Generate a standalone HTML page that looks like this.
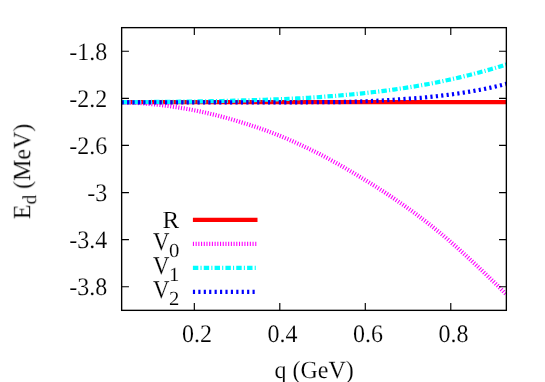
<!DOCTYPE html>
<html><head><meta charset="utf-8"><title>plot</title>
<style>
html,body{margin:0;padding:0;background:#fff;}
body{width:545px;height:382px;overflow:hidden;}
svg{display:block;}
text{font-family:"Liberation Serif",serif;font-size:24px;fill:#000;stroke:#fff;stroke-width:0.14px;text-rendering:geometricPrecision;}
.sub{font-size:19.2px;}
</style></head><body>
<svg width="545" height="382" viewBox="0 0 545 382">
<rect x="0" y="0" width="545" height="382" fill="#fff"/>
<!-- curves -->
<g fill="none" stroke-width="4.2" stroke-linecap="butt" stroke-linejoin="round">
<path d="M121.65,102.10 L506.35,102.10" stroke="#ff0000"/>
<path d="M192.9,219.8H257.5" stroke="#ff0000"/>
<path d="M121.65,102.30 L125.54,102.41 L129.42,102.55 L133.31,102.74 L137.19,102.96 L141.08,103.21 L144.97,103.50 L148.85,103.83 L152.74,104.19 L156.62,104.59 L160.51,105.02 L164.39,105.49 L168.28,105.99 L172.17,106.54 L176.05,107.11 L179.94,107.73 L183.82,108.37 L187.71,109.06 L191.60,109.78 L195.48,110.53 L199.37,111.33 L203.25,112.17 L207.14,113.05 L211.02,113.96 L214.91,114.91 L218.80,115.90 L222.68,116.92 L226.57,117.98 L230.45,119.07 L234.34,120.20 L238.23,121.36 L242.11,122.55 L246.00,123.76 L249.88,125.00 L253.77,126.28 L257.66,127.60 L261.54,128.95 L265.43,130.33 L269.31,131.76 L273.20,133.21 L277.08,134.71 L280.97,136.26 L284.86,137.89 L288.74,139.56 L292.63,141.26 L296.51,143.01 L300.40,144.78 L304.29,146.60 L308.17,148.44 L312.06,150.33 L315.94,152.25 L319.83,154.21 L323.71,156.23 L327.60,158.30 L331.49,160.40 L335.37,162.54 L339.26,164.71 L343.14,166.92 L347.03,169.17 L350.92,171.45 L354.80,173.77 L358.69,176.12 L362.57,178.47 L366.46,180.83 L370.34,183.22 L374.23,185.65 L378.12,188.11 L382.00,190.61 L385.89,193.15 L389.77,195.72 L393.66,198.33 L397.55,200.97 L401.43,203.65 L405.32,206.37 L409.20,209.12 L413.09,211.90 L416.98,214.77 L420.86,217.72 L424.75,220.71 L428.63,223.73 L432.52,226.79 L436.40,229.88 L440.29,233.01 L444.18,236.32 L448.06,239.66 L451.95,243.04 L455.83,246.46 L459.72,249.96 L463.61,253.49 L467.49,257.05 L471.38,260.64 L475.26,264.26 L479.15,267.91 L483.03,271.60 L486.92,275.31 L490.81,279.05 L494.69,282.82 L498.58,286.62 L502.46,290.55 L506.35,294.52" stroke="#ff00ff" stroke-dasharray="1.084 1.626"/>
<path d="M192.9,243.8H257.5" stroke="#ff00ff" stroke-dasharray="1.084 1.626"/>
<path d="M121.65,102.09 L125.54,102.08 L129.42,102.07 L133.31,102.06 L137.19,102.04 L141.08,102.02 L144.97,102.00 L148.85,101.98 L152.74,101.96 L156.62,101.93 L160.51,101.90 L164.39,101.86 L168.28,101.83 L172.17,101.79 L176.05,101.75 L179.94,101.70 L183.82,101.66 L187.71,101.60 L191.60,101.55 L195.48,101.49 L199.37,101.43 L203.25,101.36 L207.14,101.30 L211.02,101.22 L214.91,101.14 L218.80,101.06 L222.68,100.98 L226.57,100.89 L230.45,100.79 L234.34,100.69 L238.23,100.58 L242.11,100.47 L246.00,100.35 L249.88,100.23 L253.77,100.12 L257.66,100.01 L261.54,99.88 L265.43,99.76 L269.31,99.62 L273.20,99.48 L277.08,99.33 L280.97,99.17 L284.86,99.01 L288.74,98.83 L292.63,98.65 L296.51,98.46 L300.40,98.26 L304.29,98.03 L308.17,97.80 L312.06,97.55 L315.94,97.29 L319.83,97.03 L323.71,96.75 L327.60,96.46 L331.49,96.16 L335.37,95.85 L339.26,95.52 L343.14,95.19 L347.03,94.84 L350.92,94.48 L354.80,94.10 L358.69,93.72 L362.57,93.31 L366.46,92.90 L370.34,92.47 L374.23,92.02 L378.12,91.56 L382.00,91.08 L385.89,90.59 L389.77,90.08 L393.66,89.55 L397.55,89.00 L401.43,88.44 L405.32,87.86 L409.20,87.26 L413.09,86.64 L416.98,86.00 L420.86,85.34 L424.75,84.66 L428.63,83.95 L432.52,83.22 L436.40,82.45 L440.29,81.66 L444.18,80.84 L448.06,80.00 L451.95,79.14 L455.83,78.25 L459.72,77.34 L463.61,76.40 L467.49,75.44 L471.38,74.46 L475.26,73.46 L479.15,72.44 L483.03,71.40 L486.92,70.32 L490.81,69.21 L494.69,68.08 L498.58,66.91 L502.46,65.71 L506.35,64.48" stroke="#00ffff" stroke-dasharray="5.420 2.168 1.084 2.168"/>
<path d="M192.9,267.8H257.5" stroke="#00ffff" stroke-dasharray="5.420 2.168 1.084 2.168"/>
<path d="M121.65,102.30 L125.54,102.31 L129.42,102.31 L133.31,102.32 L137.19,102.32 L141.08,102.33 L144.97,102.34 L148.85,102.34 L152.74,102.35 L156.62,102.35 L160.51,102.36 L164.39,102.37 L168.28,102.37 L172.17,102.38 L176.05,102.38 L179.94,102.39 L183.82,102.39 L187.71,102.40 L191.60,102.40 L195.48,102.41 L199.37,102.41 L203.25,102.42 L207.14,102.42 L211.02,102.42 L214.91,102.43 L218.80,102.43 L222.68,102.43 L226.57,102.43 L230.45,102.44 L234.34,102.44 L238.23,102.44 L242.11,102.44 L246.00,102.43 L249.88,102.43 L253.77,102.43 L257.66,102.43 L261.54,102.42 L265.43,102.42 L269.31,102.41 L273.20,102.40 L277.08,102.39 L280.97,102.38 L284.86,102.36 L288.74,102.34 L292.63,102.32 L296.51,102.30 L300.40,102.28 L304.29,102.28 L308.17,102.27 L312.06,102.26 L315.94,102.25 L319.83,102.23 L323.71,102.21 L327.60,102.18 L331.49,102.15 L335.37,102.12 L339.26,102.08 L343.14,101.99 L347.03,101.90 L350.92,101.79 L354.80,101.68 L358.69,101.56 L362.57,101.41 L366.46,101.25 L370.34,101.07 L374.23,100.89 L378.12,100.69 L382.00,100.48 L385.89,100.24 L389.77,99.99 L393.66,99.73 L397.55,99.45 L401.43,99.18 L405.32,98.95 L409.20,98.70 L413.09,98.43 L416.98,98.14 L420.86,97.83 L424.75,97.46 L428.63,97.07 L432.52,96.66 L436.40,96.22 L440.29,95.77 L444.18,95.28 L448.06,94.80 L451.95,94.30 L455.83,93.77 L459.72,93.22 L463.61,92.63 L467.49,92.01 L471.38,91.37 L475.26,90.68 L479.15,89.96 L483.03,89.21 L486.92,88.41 L490.81,87.58 L494.69,86.70 L498.58,85.79 L502.46,84.82 L506.35,83.81" stroke="#0000ff" stroke-dasharray="2.168 3.252"/>
<path d="M192.9,291.8H257.5" stroke="#0000ff" stroke-dasharray="2.168 3.252"/>
</g>
<!-- frame & ticks -->
<path d="M121.65,51.21h7.3 M506.35,51.21h-7.3 M121.65,98.33h7.3 M506.35,98.33h-7.3 M121.65,145.44h7.3 M506.35,145.44h-7.3 M121.65,192.56h7.3 M506.35,192.56h-7.3 M121.65,239.68h7.3 M506.35,239.68h-7.3 M121.65,286.79h7.3 M506.35,286.79h-7.3 M194.32,310.35v-7.3 M194.32,27.65v7.3 M279.80,310.35v-7.3 M279.80,27.65v7.3 M365.29,310.35v-7.3 M365.29,27.65v7.3 M450.78,310.35v-7.3 M450.78,27.65v7.3" fill="none" stroke="#000" stroke-width="1.15"/>
<rect x="121.65" y="27.65" width="384.70" height="282.70" fill="none" stroke="#000" stroke-width="1.35"/>
<!-- labels -->
<g id="labels" style="opacity:0.999">
<text transform="translate(107.30,59.51) scale(1.0,1.05)" text-anchor="end">-1.8</text>
<text transform="translate(107.30,106.63) scale(1.0,1.05)" text-anchor="end">-2.2</text>
<text transform="translate(107.30,153.74) scale(1.0,1.05)" text-anchor="end">-2.6</text>
<text transform="translate(107.30,200.86) scale(1.0,1.05)" text-anchor="end">-3</text>
<text transform="translate(107.30,247.98) scale(1.0,1.05)" text-anchor="end">-3.4</text>
<text transform="translate(107.30,295.09) scale(1.0,1.05)" text-anchor="end">-3.8</text>
<text transform="translate(182.12,342.35) scale(1.0,1.05)">0.2</text>
<text transform="translate(267.60,342.35) scale(1.0,1.05)">0.4</text>
<text transform="translate(353.09,342.35) scale(1.0,1.05)">0.6</text>
<text transform="translate(438.58,342.35) scale(1.0,1.05)">0.8</text>

<text transform="translate(179.10,228.00) scale(1.04,1.025)" text-anchor="end">R</text>
<text transform="translate(152.90,249.70) scale(0.95,1.065)">V</text>
<text transform="translate(169.00,256.50) scale(1.08,1.04)"><tspan class="sub">0</tspan></text>
<text transform="translate(152.90,273.70) scale(0.95,1.065)">V</text>
<text transform="translate(169.00,280.50) scale(1.08,1.04)"><tspan class="sub">1</tspan></text>
<text transform="translate(152.90,297.70) scale(0.95,1.065)">V</text>
<text transform="translate(169.00,304.50) scale(1.08,1.04)"><tspan class="sub">2</tspan></text>
<text transform="translate(274.40,378.00) scale(1.0,1.03)">q (GeV)</text>
<text transform="translate(29.80,219.20) rotate(-90) scale(1.0,1.03)">E<tspan class="sub" dy="6.41">d</tspan><tspan dy="-6.41"> (MeV)</tspan></text>
</g>
</svg>
</body></html>
